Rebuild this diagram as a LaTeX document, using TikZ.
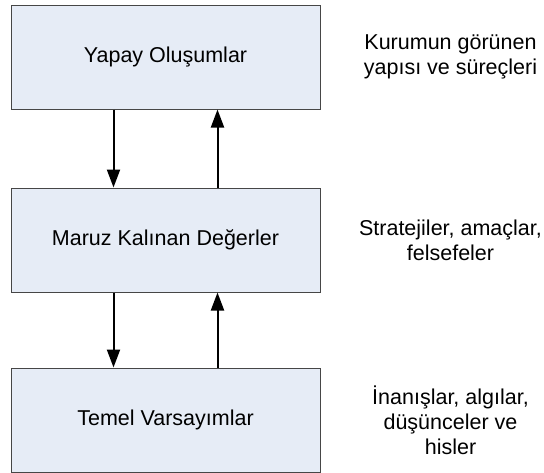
\documentclass[tikz,border=0pt]{standalone}
\usepackage{fontspec}
\setmainfont{Liberation Sans}
\usetikzlibrary{positioning, arrows.meta}
\definecolor{boxfill}{RGB}{230,236,246}
\definecolor{boxline}{RGB}{70,70,70}
\tikzstyle{layer} = [rectangle, minimum width=309pt, minimum height=104pt, text centered, draw=boxline, fill=boxfill, line width=1pt, font=\fontsize{21.5}{25}\selectfont]
\tikzstyle{note} = [align=center, font=\fontsize{21.5}{25}\selectfont, inner sep=0pt]
\tikzstyle{arrow} = [line width=2pt, -{Triangle[width=13pt,length=18pt]}]

\begin{document}
\begin{tikzpicture}[x=1pt, y=-1pt]
\useasboundingbox (0,0) rectangle (544,472);

\node (artifacts) [layer] at (165.5,57) {Yapay Oluşumlar};
\node (values) [layer, below=78pt of artifacts] {Maruz Kalınan Değerler};
\node (assumptions) [layer, below=75pt of values] {Temel Varsayımlar};

\node (artnote) [note, right=130pt of artifacts.east, anchor=center] {Kurumun görünen\\yapısı ve süreçleri};
\node (valnote) [note, right=130pt of values.east, anchor=center] {Stratejiler, amaçlar,\\felsefeler};
\node (assnote) [note, right=130pt of assumptions.east, anchor=center] {İnanışlar, algılar,\\düşünceler ve\\hisler};

\draw [arrow] ([xshift=-52pt]artifacts.south) -- ([xshift=-52pt]values.north);
\draw [arrow] ([xshift=52pt]values.north) -- ([xshift=52pt]artifacts.south);
\draw [arrow] ([xshift=-52pt]values.south) -- ([xshift=-52pt]assumptions.north);
\draw [arrow] ([xshift=52pt]assumptions.north) -- ([xshift=52pt]values.south);

\end{tikzpicture}
\end{document}
